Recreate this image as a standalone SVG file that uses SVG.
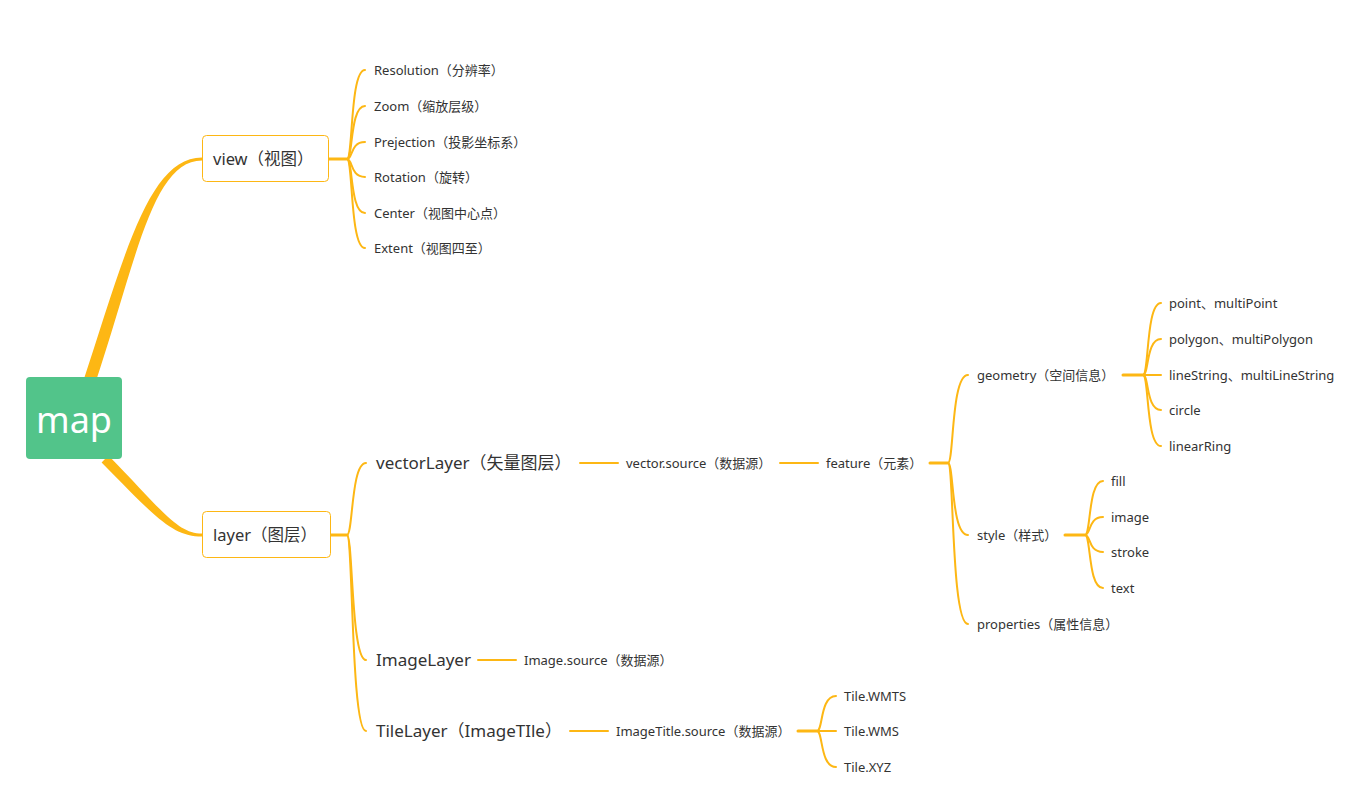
<svg xmlns="http://www.w3.org/2000/svg" width="1362" height="792" viewBox="0 0 1362 792">
<style>
.c{fill:none;stroke:#FDB714;stroke-width:2;stroke-linecap:round}
.s{stroke-width:3}
.br{fill:#FDB714;stroke:none}
.t{font-family:"Noto Sans","Noto Sans CJK SC",sans-serif;fill:#333333}
.f13{font-size:13px}
.f17{font-size:17px}
.f16{font-size:16.5px}
.box{fill:#ffffff;stroke:#FDB714;stroke-width:1}
</style>
<rect width="1362" height="792" fill="#ffffff"/>
<g id="connectors">
<path class="br" d="M82.3,384.1 C124,258 148,157.5 202,157.5 L202,160.5 C152,160.5 136,262 93.7,387.9 Z"/>
<path class="br" d="M108.4,455.4 C163,511 177,533.5 202,533.5 L202,536.5 C173,536.5 157,519 101.6,462.6 Z"/>
<path class="c s" d="M329,159 H347"/>
<path class="c" d="M347,159 C353,159 350,70 365,70"/>
<path class="c" d="M347,159 C353,159 350,106 365,106"/>
<path class="c" d="M347,159 C353,159 350,142 365,142"/>
<path class="c" d="M347,159 C353,159 350,177 365,177"/>
<path class="c" d="M347,159 C353,159 350,213 365,213"/>
<path class="c" d="M347,159 C353,159 350,248 365,248"/>
<path class="c s" d="M331,535 H347"/>
<path class="c" d="M347,535 C353,535 351,463 366,463"/>
<path class="c" d="M347,535 C353,535 351,660 366,660"/>
<path class="c" d="M347,535 C353,535 351,731 366,731"/>
<path class="c" d="M580,463 H618"/>
<path class="c" d="M780,463 H818"/>
<path class="c" d="M478,660 H516"/>
<path class="c" d="M570,731 H608"/>
<path class="c s" d="M930,463 H948"/>
<path class="c" d="M948,463 C954,463 951,375 968,375"/>
<path class="c" d="M948,463 C954,463 951,535 968,535"/>
<path class="c" d="M948,463 C954,463 951,624 968,624"/>
<path class="c s" d="M1123,375 H1143"/>
<path class="c" d="M1143,375 C1149,375 1146,303 1161,303"/>
<path class="c" d="M1143,375 C1149,375 1146,339 1161,339"/>
<path class="c" d="M1143,375 H1161"/>
<path class="c" d="M1143,375 C1149,375 1146,410 1161,410"/>
<path class="c" d="M1143,375 C1149,375 1146,446 1161,446"/>
<path class="c s" d="M1065,535 H1085"/>
<path class="c" d="M1085,535 C1091,535 1088,481 1103,481"/>
<path class="c" d="M1085,535 C1091,535 1088,517 1103,517"/>
<path class="c" d="M1085,535 C1091,535 1088,552 1103,552"/>
<path class="c" d="M1085,535 C1091,535 1088,588 1103,588"/>
<path class="c s" d="M798,731 H817"/>
<path class="c" d="M817,731 C823,731 820,696 836,696"/>
<path class="c" d="M817,731 H836"/>
<path class="c" d="M817,731 C823,731 820,767 836,767"/>
</g>
<g id="map">
<rect x="26" y="377" width="96" height="82" rx="4" fill="#52C48A"/>
<text x="74" y="433" text-anchor="middle" font-family="Noto Sans, sans-serif" font-size="36" fill="#ffffff">map</text>
</g>
<g id="view">
<rect class="box" x="202.5" y="135.5" width="126" height="46" rx="4"/>
<text class="t f16" x="213" y="165">view（视图）</text>
</g>
<g id="layer">
<rect class="box" x="202.5" y="511.5" width="128" height="46" rx="4"/>
<text class="t f16" x="213" y="541">layer（图层）</text>
</g>
<g id="resolution"><text class="t f13" x="374" y="75">Resolution（分辨率）</text></g>
<g id="zoom"><text class="t f13" x="374" y="111">Zoom（缩放层级）</text></g>
<g id="projection"><text class="t f13" x="374" y="147">Prejection（投影坐标系）</text></g>
<g id="rotation"><text class="t f13" x="374" y="182">Rotation（旋转）</text></g>
<g id="center"><text class="t f13" x="374" y="218">Center（视图中心点）</text></g>
<g id="extent"><text class="t f13" x="374" y="253">Extent（视图四至）</text></g>
<g id="vectorLayer"><text class="t f17" x="376" y="469">vectorLayer（矢量图层）</text></g>
<g id="vectorSource"><text class="t f13" x="626" y="468">vector.source（数据源）</text></g>
<g id="feature"><text class="t f13" x="826" y="468">feature（元素）</text></g>
<g id="geometry"><text class="t f13" x="977" y="380">geometry（空间信息）</text></g>
<g id="style"><text class="t f13" x="977" y="540">style（样式）</text></g>
<g id="properties"><text class="t f13" x="977" y="629">properties（属性信息）</text></g>
<g id="point"><text class="t f13" x="1169" y="308">point、multiPoint</text></g>
<g id="polygon"><text class="t f13" x="1169" y="344">polygon、multiPolygon</text></g>
<g id="lineString"><text class="t f13" x="1169" y="380">lineString、multiLineString</text></g>
<g id="circle"><text class="t f13" x="1169" y="415">circle</text></g>
<g id="linearRing"><text class="t f13" x="1169" y="451">linearRing</text></g>
<g id="fill"><text class="t f13" x="1111" y="486">fill</text></g>
<g id="image"><text class="t f13" x="1111" y="522">image</text></g>
<g id="stroke"><text class="t f13" x="1111" y="557">stroke</text></g>
<g id="text"><text class="t f13" x="1111" y="593">text</text></g>
<g id="imageLayer"><text class="t f17" x="376" y="666">ImageLayer</text></g>
<g id="imageSource"><text class="t f13" x="524" y="665">Image.source（数据源）</text></g>
<g id="tileLayer"><text class="t f17" x="376" y="737">TileLayer（ImageTIle）</text></g>
<g id="imageTitleSource"><text class="t f13" x="616" y="736">ImageTitle.source（数据源）</text></g>
<g id="wmts"><text class="t f13" x="844" y="701">Tile.WMTS</text></g>
<g id="wms"><text class="t f13" x="844" y="736">Tile.WMS</text></g>
<g id="xyz"><text class="t f13" x="844" y="772">Tile.XYZ</text></g>
</svg>
